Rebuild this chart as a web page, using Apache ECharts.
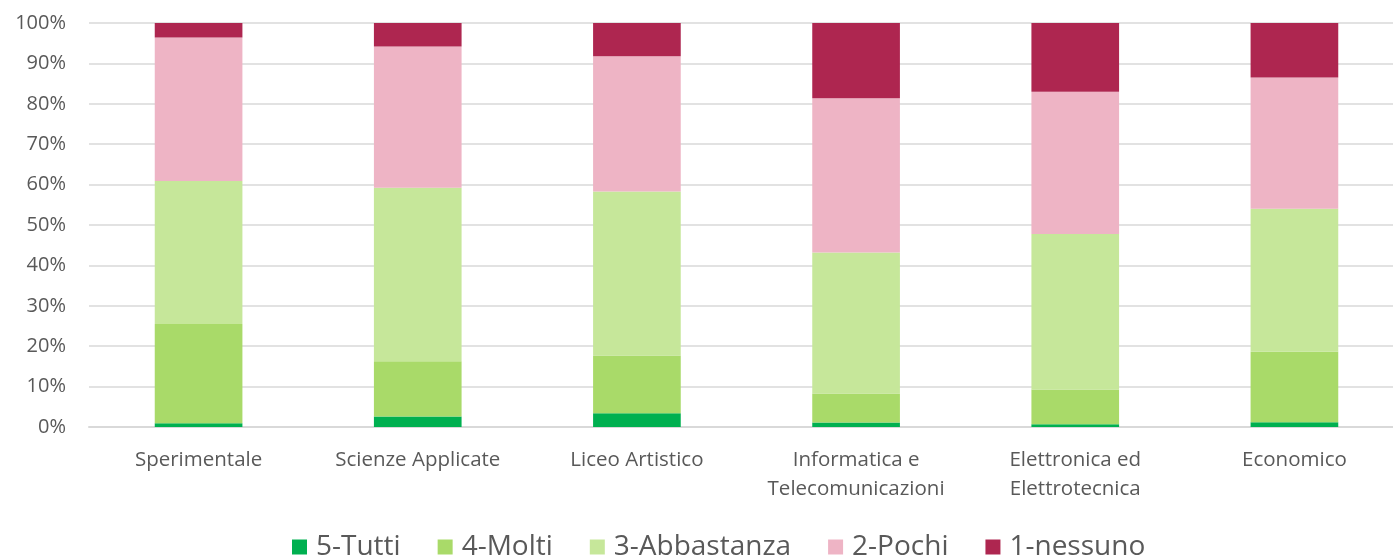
<!DOCTYPE html>
<html>
<head>
<meta charset="utf-8">
<script src="https://cdn.jsdelivr.net/npm/echarts@6/dist/echarts.min.js"></script>
<style>
  html, body { margin: 0; padding: 0; background: #fff; }
  #chart { width: 1393px; height: 560px; }
</style>
</head>
<body>
<div id="chart"></div>
<script>
// Indirizzi scolastici (asse x)
const categories = [
  'Sperimentale',
  'Scienze Applicate',
  'Liceo Artistico',
  'Informatica e\nTelecomunicazioni',
  'Elettronica ed\nElettrotecnica',
  'Economico'
];

// Quote percentuali per livello di risposta
const tutti      = [0.9, 2.6, 3.4, 1.1, 0.7, 1.2];
const molti      = [24.6, 13.7, 14.3, 7.2, 8.6, 17.4];
const abbastanza = [35.4, 42.9, 40.6, 34.9, 38.5, 35.4];
const pochi      = [35.5, 35.0, 33.5, 38.2, 35.2, 32.5];
const nessuno    = [3.6, 5.8, 8.2, 18.6, 17.0, 13.5];

const seriesNames = ['5-Tutti', '4-Molti', '3-Abbastanza', '2-Pochi', '1-nessuno'];
const seriesData = [tutti, molti, abbastanza, pochi, nessuno];
const colors = ['#00B050', '#A9DA69', '#C6E79A', '#EEB4C5', '#AE2650'];

const FONT = '"Open Sans"';

const chart = echarts.init(document.getElementById('chart'), null, { renderer: 'canvas' });

chart.setOption({
  animation: false,
  textStyle: { fontFamily: FONT },
  // the plot runs a little past the right edge of the canvas
  grid: { left: 89, width: 1315, top: 23, height: 404, outerBoundsMode: 'none', containLabel: false },
  xAxis: {
    type: 'category',
    data: categories,
    axisTick: { show: false },
    axisLine: { lineStyle: { color: '#D9D9D9', width: 2 } },
    axisLabel: {
      color: '#595959',
      fontSize: 20.5,
      fontFamily: FONT,
      margin: 19,
      lineHeight: 29,
      interval: 0
    }
  },
  yAxis: {
    type: 'value',
    min: 0,
    max: 100,
    interval: 10,
    axisLine: { show: false },
    axisTick: { show: false },
    splitLine: { lineStyle: { color: '#D9D9D9', width: 1.5 } },
    axisLabel: {
      color: '#595959',
      fontSize: 20,
      fontFamily: FONT,
      margin: 23,
      formatter: v => v + '%'
    }
  },
  legend: {
    bottom: -6,
    left: 287,
    itemWidth: 15,
    itemHeight: 15,
    itemGap: 37,
    icon: 'rect',
    textStyle: { color: '#595959', fontSize: 28, fontFamily: FONT, padding: [0, 0, 0, 4] },
    data: seriesNames
  },
  series: seriesData.map((d, i) => ({
    name: seriesNames[i],
    type: 'bar',
    stack: 'totale',
    barWidth: '40%',
    data: d,
    itemStyle: { color: colors[i] }
  }))
});
</script>
</body>
</html>
